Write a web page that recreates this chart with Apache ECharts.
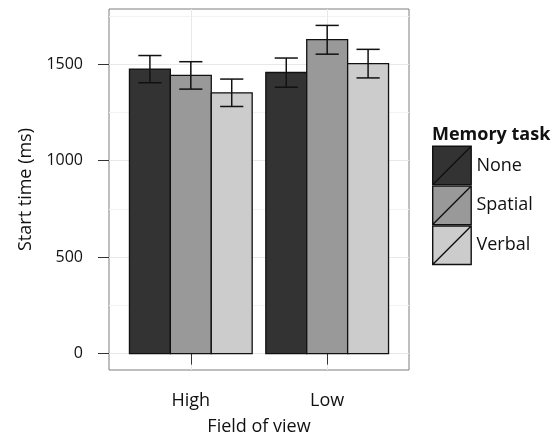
<!DOCTYPE html>
<html>
<head>
<meta charset="utf-8">
<script src="https://cdn.jsdelivr.net/npm/echarts@6/dist/echarts.min.js"></script>
<style>
  html, body { margin: 0; padding: 0; background: #fff; }
  #chart { width: 554px; height: 438px; }
</style>
</head>
<body>
<div id="chart"></div>
<script>
// field of view groups and memory task series
var fieldOfView = ['High', 'Low'];
var memoryTasks = ['None', 'Spatial', 'Verbal'];
var fills = ['#333333', '#999999', '#cccccc'];

// mean start time (ms)
var meanNone = [1474, 1456];
var meanSpatial = [1441, 1626];
var meanVerbal = [1351, 1502];
// error bar bounds
var lowNone = [1403, 1380];
var highNone = [1544, 1531];
var lowSpatial = [1370, 1551];
var highSpatial = [1512, 1700];
var lowVerbal = [1280, 1428];
var highVerbal = [1422, 1576];

var yTicks = [0, 500, 1000, 1500];
var yMinor = [250, 750, 1250, 1750];

var means = [meanNone, meanSpatial, meanVerbal];
var lows = [lowNone, lowSpatial, lowVerbal];
var highs = [highNone, highSpatial, highVerbal];

var FONT = 'Open Sans';
var barW = 0.3;
var capW = 0.085;
var offsets = [-0.3, 0, 0.3];

function renderItem(params, api) {
  var s = params.seriesIndex;
  var x = api.value(0) + offsets[s];
  var p0 = api.coord([x - barW / 2, api.value(1)]);
  var p1 = api.coord([x + barW / 2, 0]);
  var lo = api.coord([x, api.value(2)]);
  var hi = api.coord([x, api.value(3)]);
  var cl = api.coord([x - capW, 0])[0];
  var cr = api.coord([x + capW, 0])[0];
  var eb = { stroke: '#111', lineWidth: 1.5 };
  return {
    type: 'group',
    children: [
      { type: 'rect', shape: { x: p0[0], y: p0[1], width: p1[0] - p0[0], height: p1[1] - p0[1] },
        style: { fill: fills[s], stroke: '#111', lineWidth: 1.3 } },
      { type: 'line', shape: { x1: lo[0], y1: lo[1], x2: hi[0], y2: hi[1] }, style: eb },
      { type: 'line', shape: { x1: cl, y1: hi[1], x2: cr, y2: hi[1] }, style: eb },
      { type: 'line', shape: { x1: cl, y1: lo[1], x2: cr, y2: lo[1] }, style: eb }
    ]
  };
}

var series = memoryTasks.map(function (name, i) {
  return {
    name: name,
    type: 'custom',
    renderItem: renderItem,
    itemStyle: { color: fills[i] },
    data: fieldOfView.map(function (f, j) {
      return [j + 1, means[i][j], lows[i][j], highs[i][j]];
    })
  };
});

var chart = echarts.init(document.getElementById('chart'));
chart.setOption({
  animation: false,
  title: {
    text: 'Memory task', left: 427, top: 121,
    textStyle: { fontFamily: FONT, fontSize: 18, fontWeight: 'bold', color: '#111' }
  },
  legend: {
    orient: 'vertical', left: 432, top: 145.5, padding: 0,
    itemWidth: 39, itemHeight: 38.5, itemGap: 0,
    icon: 'path://M0,0L40,0L40,40L0,40Z M0,40L40,0',
    itemStyle: { borderColor: '#111', borderWidth: 1.4 },
    textStyle: { fontFamily: FONT, fontSize: 18, color: '#111' },
    data: memoryTasks
  },
  grid: {
    left: 109, top: 9, width: 300, height: 361,
    show: true, borderColor: '#7f7f7f', borderWidth: 1,
    outerBoundsMode: 'none'
  },
  xAxis: {
    type: 'value', min: 0.4, max: 2.6,
    name: 'Field of view', nameLocation: 'middle', nameGap: 48,
    nameTextStyle: { fontFamily: FONT, fontSize: 18, color: '#111' },
    axisLine: { show: false },
    axisTick: { show: true, length: 11, lineStyle: { color: '#333' }, customValues: [1, 2] },
    axisLabel: {
      customValues: [1, 2], margin: 22,
      fontFamily: FONT, fontSize: 18, color: '#111',
      formatter: function (v) { return fieldOfView[Math.round(v) - 1]; }
    },
    splitLine: { show: true, lineStyle: { color: '#e8e8e8' } }
  },
  yAxis: [{
    type: 'value', min: -85, max: 1785,
    name: 'Start time (ms)', nameLocation: 'middle', nameGap: 74,
    nameTextStyle: { fontFamily: FONT, fontSize: 18, color: '#111' },
    axisLine: { show: false },
    axisTick: { show: true, length: 11, lineStyle: { color: '#333' }, customValues: yTicks },
    axisLabel: {
      customValues: yTicks, margin: 26, fontFamily: FONT, fontSize: 16, color: '#111',
      formatter: function (v) { return String(v); }
    },
    splitLine: { show: true, lineStyle: { color: '#e8e8e8' } }
  }, {
    type: 'value', min: -85, max: 1785, position: 'left',
    axisLine: { show: false },
    axisTick: { show: false, customValues: yMinor },
    axisLabel: { show: false, customValues: yMinor },
    splitLine: { show: true, lineStyle: { color: '#f3f3f3' } }
  }],
  series: series
});
</script>
</body>
</html>
